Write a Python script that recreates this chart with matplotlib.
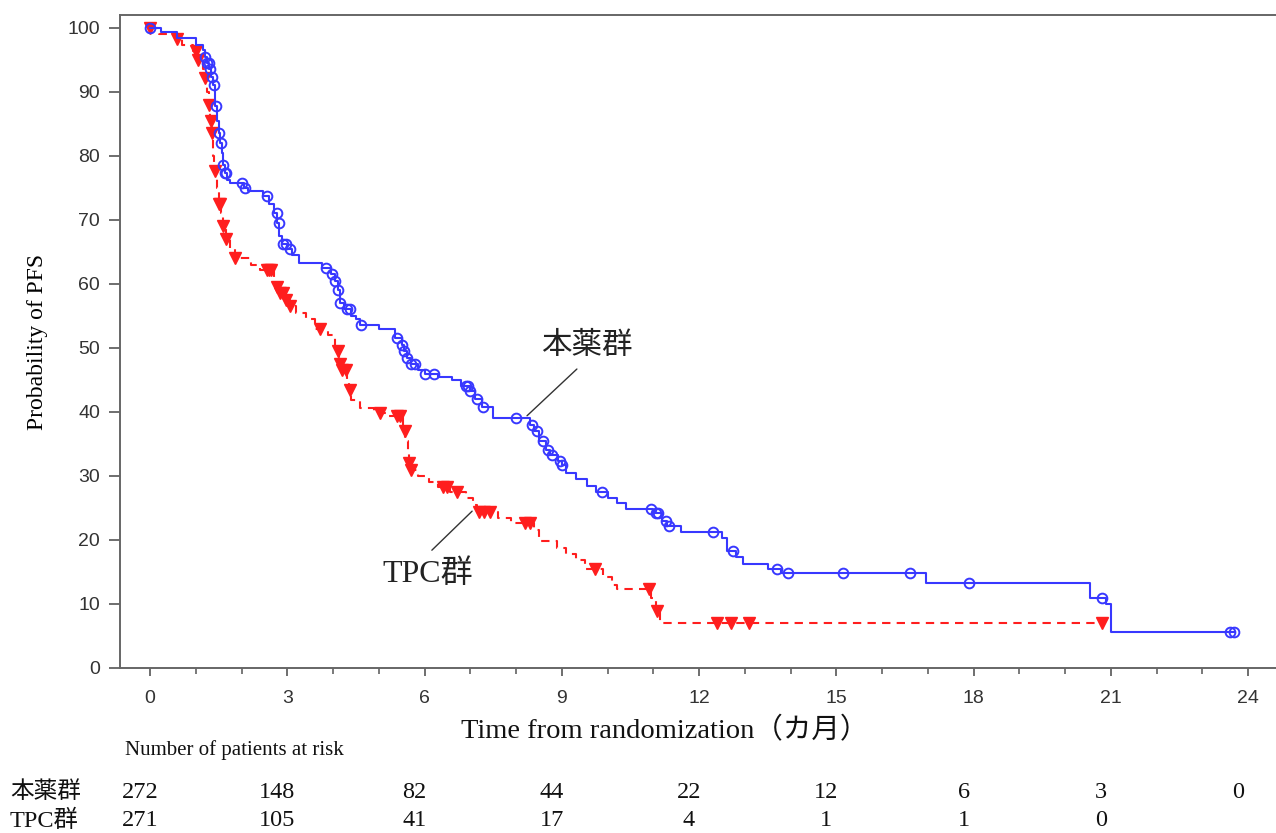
import numpy as np
import matplotlib
matplotlib.use("Agg")
import matplotlib.pyplot as plt
from matplotlib.ticker import MultipleLocator
from matplotlib.transforms import blended_transform_factory, offset_copy

# ---------------- data ----------------
# 本薬群 (drug arm): step times (months) and survival after each step (%)
drug_times = [0.25, 0.6, 1.0, 1.15, 1.2, 1.25, 1.3, 1.33, 1.37, 1.42, 1.47, 1.5, 1.53,
              1.57, 1.6, 1.63, 1.68, 1.75, 2.05, 2.15, 2.48, 2.6, 2.7, 2.78, 2.83, 2.88,
              3.0, 3.1, 3.25, 3.75, 3.95, 4.05, 4.1, 4.15, 4.25, 4.4, 4.5, 4.6, 5.0,
              5.35, 5.5, 5.55, 5.62, 5.7, 5.85, 6.0, 6.3, 6.6, 6.8, 7.0, 7.1, 7.25, 7.5,
              8.3, 8.4, 8.5, 8.65, 8.75, 8.92, 9.0, 9.1, 9.3, 9.55, 9.75, 10.0, 10.2,
              10.4, 11.0, 11.2, 11.3, 11.6, 12.5, 12.6, 12.8, 12.95, 13.5, 13.8, 16.95,
              20.55, 20.9, 21.0]
drug_surv = [99.3, 98.4, 97.3, 96.5, 95.5, 94.5, 93.5, 92.3, 91.0, 87.8, 85.5, 83.5, 82.0,
             80.5, 78.5, 77.3, 76.3, 75.8, 75.0, 74.5, 73.7, 72.5, 71.0, 69.5, 67.5, 66.3,
             65.5, 64.5, 63.3, 62.5, 61.5, 60.5, 59.0, 57.0, 56.0, 55.0, 54.5, 53.5, 53.0,
             51.5, 50.5, 49.5, 48.5, 47.5, 46.5, 46.0, 45.5, 45.0, 44.0, 43.2, 42.0, 40.8,
             39.0, 38.0, 37.0, 35.5, 34.0, 33.3, 32.3, 31.7, 30.5, 29.5, 28.5, 27.5, 26.5,
             25.8, 24.8, 24.2, 23.0, 22.2, 21.2, 20.3, 18.3, 17.3, 16.3, 15.5, 14.8, 13.3,
             11.0, 10.0, 5.6]
drug_end = 23.7
drug_censor = [0.0, 1.2, 1.25, 1.28, 1.32, 1.36, 1.4, 1.45, 1.5, 1.55, 1.6, 1.63, 1.67,
               2.0, 2.08, 2.55, 2.77, 2.82, 2.9, 2.98, 3.05, 3.85, 3.98, 4.05, 4.1, 4.15,
               4.3, 4.38, 4.62, 5.4, 5.5, 5.55, 5.62, 5.7, 5.8, 6.0, 6.2, 6.9, 6.95, 7.0,
               7.15, 7.28, 8.0, 8.35, 8.45, 8.6, 8.7, 8.78, 8.95, 9.0, 9.88, 10.95, 11.05,
               11.1, 11.28, 11.35, 12.3, 12.75, 13.7, 13.95, 15.15, 16.6, 17.9, 20.8,
               23.6, 23.7]

# TPC群 (control arm)
tpc_times = [0.2, 0.55, 0.7, 0.95, 1.05, 1.15, 1.2, 1.25, 1.28, 1.32, 1.35, 1.38, 1.4,
             1.47, 1.5, 1.55, 1.6, 1.65, 1.75, 1.85, 2.2, 2.4, 2.7, 2.75, 2.85, 2.95,
             3.05, 3.2, 3.4, 3.6, 3.9, 4.05, 4.12, 4.2, 4.3, 4.35, 4.4, 4.6, 4.9, 5.2,
             5.52, 5.58, 5.63, 5.66, 5.7, 5.85, 6.1, 6.3, 6.55, 6.9, 7.05, 7.15, 7.6,
             7.9, 8.4, 8.5, 8.9, 9.1, 9.3, 9.5, 9.9, 10.1, 10.2, 10.95, 11.05, 11.15]
tpc_surv = [99.0, 98.3, 97.3, 96.3, 95.0, 93.5, 92.2, 90.0, 88.0, 85.5, 83.5, 80.0, 77.7,
            75.0, 72.5, 71.0, 69.0, 67.0, 65.5, 64.0, 63.0, 62.2, 61.0, 59.5, 58.5, 57.5,
            56.5, 55.5, 54.5, 53.0, 52.0, 49.5, 47.5, 46.5, 45.0, 43.5, 41.8, 40.6, 39.8,
            39.3, 37.0, 35.5, 33.5, 32.0, 31.0, 30.0, 29.0, 28.2, 27.5, 26.5, 25.5, 24.3,
            23.5, 22.6, 21.5, 19.8, 18.8, 17.8, 16.8, 15.5, 14.2, 13.0, 12.3, 11.0, 8.9, 7.0]
tpc_end = 20.8
tpc_censor = [0.0, 0.6, 1.0, 1.05, 1.2, 1.28, 1.33, 1.36, 1.42, 1.5, 1.53, 1.6, 1.65, 1.85,
              2.55, 2.6, 2.65, 2.78, 2.85, 2.9, 2.97, 3.05, 3.72, 4.1, 4.15, 4.2, 4.28,
              4.38, 5.03, 5.4, 5.47, 5.57, 5.66, 5.7, 6.4, 6.5, 6.7, 7.2, 7.3, 7.43, 8.2,
              8.3, 9.73, 10.9, 11.08, 12.4, 12.7, 13.1, 20.8]

risk_times = [0, 3, 6, 9, 12, 15, 18, 21, 24]
risk_drug = [272, 148, 82, 44, 22, 12, 6, 3, 0]
risk_tpc = [271, 105, 41, 17, 4, 1, 1, 0]

xticks = [0, 3, 6, 9, 12, 15, 18, 21, 24]
yticks = [0, 10, 20, 30, 40, 50, 60, 70, 80, 90, 100]

# ---------------- figure ----------------
W, H = 1276, 833
fig = plt.figure(figsize=(W / 100, H / 100), dpi=100)

def px(x0, y0, x1, y1):
    return [x0 / W, 1 - y1 / H, (x1 - x0) / W, (y1 - y0) / H]

ax = fig.add_axes(px(119.5, 15, 1276, 668))
ax.set_xlim(-0.667, 24.61)
ax.set_ylim(0, 102.0)

BLUE = "#3838ff"
RED = "#ff1e1e"


def surv_at(t, times, surv):
    idx = np.searchsorted(np.asarray(times), np.asarray(t), side="right") - 1
    s = np.asarray([100.0] + list(surv))
    return s[idx + 1]


def km_xy(times, surv, end):
    x = [0.0] + list(times) + [end]
    y = [100.0] + list(surv) + [surv[-1]]
    return x, y

# TPC
x, y = km_xy(tpc_times, tpc_surv, tpc_end)
ax.step(x, y, where="post", color=RED, lw=1.5, ls=(0, (4, 3)), zorder=3)
ax.plot(tpc_censor, surv_at(tpc_censor, tpc_times, tpc_surv), ls="none", marker="v",
        ms=8, color=RED, mec=RED, zorder=4)

# drug
x, y = km_xy(drug_times, drug_surv, drug_end)
ax.step(x, y, where="post", color=BLUE, lw=1.5, zorder=5)
ax.plot(drug_censor, surv_at(drug_censor, drug_times, drug_surv), ls="none", marker="o",
        ms=7, mfc="none", mec=BLUE, mew=1.4, zorder=6)

# axes styling
for side in ["left", "bottom", "top"]:
    ax.spines[side].set_color("#666666")
    ax.spines[side].set_linewidth(1.4)
ax.spines["right"].set_visible(False)

ax.set_xticks(xticks)
ax.xaxis.set_minor_locator(MultipleLocator(1))
ax.set_yticks(yticks)
ax.tick_params(axis="both", which="major", direction="out", color="#555555",
               width=1.2, labelcolor="#333333", labelsize=14)
ax.tick_params(axis="x", which="major", length=6, pad=10)
ax.tick_params(axis="x", which="minor", length=4, width=1.1, color="#555555")
ax.tick_params(axis="y", which="major", length=8, pad=6)
for lab in ax.get_xticklabels() + ax.get_yticklabels():
    lab.set_fontfamily("Liberation Sans")
ax.tick_params(top=False)

SERIF = ["Liberation Serif", "Noto Sans CJK JP"]
ax.set_ylabel("Probability of PFS", family=SERIF, fontsize=17, labelpad=14)

fig.text(665 / W, 1 - 731 / H, "Time from randomization（カ月）", family=SERIF,
         fontsize=20.5, ha="center", va="center", color="#111111")

# annotations
ax.annotate("", xy=(8.24, 39.4), xytext=(9.33, 46.7),
            arrowprops=dict(arrowstyle="-", color="#333333", lw=1.0, shrinkA=0, shrinkB=0))
ax.text(9.55, 50.3, "本薬群", family=["Noto Sans CJK JP"], fontsize=22,
        ha="center", va="center", color="#222222")
ax.annotate("", xy=(7.04, 24.5), xytext=(6.16, 18.4),
            arrowprops=dict(arrowstyle="-", color="#333333", lw=1.0, shrinkA=0, shrinkB=0))
ax.text(6.08, 14.7, "TPC群", family=SERIF, fontsize=23,
        ha="center", va="center", color="#222222")

# risk table
fig.text(125 / W, 1 - 750 / H, "Number of patients at risk", family=SERIF,
         fontsize=15, ha="left", va="center", color="#111111")
trans = blended_transform_factory(ax.transData, fig.transFigure)
trans = offset_copy(trans, fig=fig, x=-10, y=0, units="dots")
row_y = [1 - 792 / H, 1 - 821 / H]
fig.text(10 / W, row_y[0], "本薬群", family=["Noto Sans CJK JP"], fontsize=17,
         ha="left", va="center", color="#111111")
fig.text(10 / W, row_y[1], "TPC群", family=SERIF, fontsize=17.5,
         ha="left", va="center", color="#111111")
for t, n in zip(risk_times, risk_drug):
    ax.text(t, row_y[0], str(n), transform=trans, family=SERIF, fontsize=17.5,
            ha="center", va="center", color="#111111", clip_on=False)
for t, n in zip(risk_times, risk_tpc):
    ax.text(t, row_y[1], str(n), transform=trans, family=SERIF, fontsize=17.5,
            ha="center", va="center", color="#111111", clip_on=False)

fig.savefig("out.png", dpi=100)
